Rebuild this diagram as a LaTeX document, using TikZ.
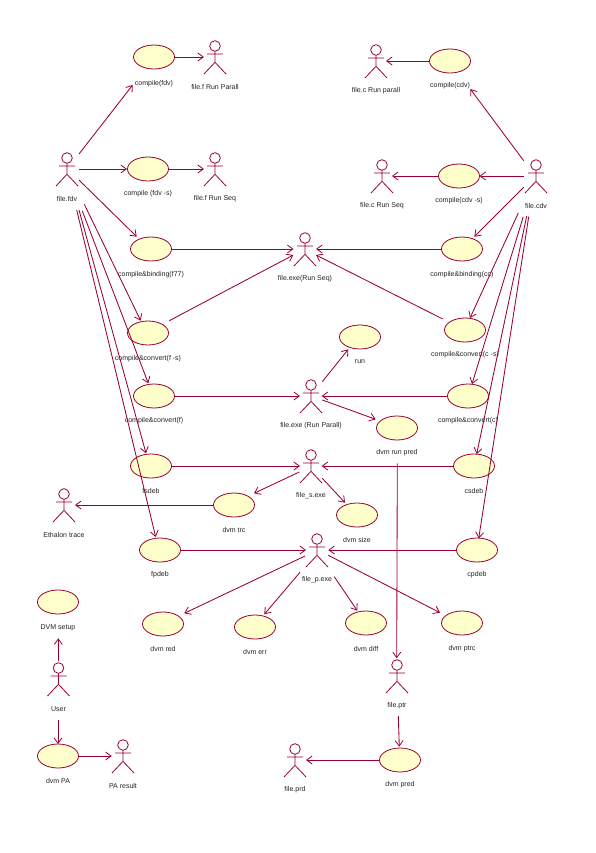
\documentclass[tikz,border=0pt]{standalone}
\usepackage{fontspec}
\setmainfont{Liberation Sans}
\usetikzlibrary{arrows.meta,shapes.geometric}
\definecolor{rosered}{HTML}{990033}
\definecolor{rosefill}{HTML}{FFFFCC}
\definecolor{rosetext}{HTML}{222222}
\tikzset{
  usecase/.style={ellipse,draw=rosered,fill=rosefill,line width=0.8pt,minimum width=41pt,minimum height=24pt,inner sep=0pt,outer sep=0pt},
  actorbox/.style={rectangle,draw=none,fill=none,minimum width=22pt,minimum height=34pt,inner sep=0pt,outer sep=0pt},
  actorline/.style={draw=rosered,line width=0.8pt},
  lbl/.style={font=\fontsize{7}{8}\selectfont,text=rosetext,inner sep=0pt,outer sep=0pt},
  conn/.style={draw=rosered,line width=0.85pt,-{Straight Barb[length=5.5pt,width=8pt,line width=0.8pt]}},
}
\newcommand{\ucase}[5]{% name x y label-y label
  \node[usecase] (#1) at (#2,#3) {};
  \node[lbl] (#1-l) at (#2,#4) {#5};
}
\newcommand{\actr}[4]{% name head-x head-y label
  \node[actorbox] (#1) at (#2,#3+11) {};
  \node[lbl] (#1-l) at (#2,#3+41) {#4};
  \begin{scope}[shift={(#2,#3)}]
    \draw[actorline] (0,0) circle (5.3pt);
    \draw[actorline] (0,5.3) -- (0,16.3) (-8,8) -- (8,8) (-11,28) -- (0,16.3) -- (11,28);
  \end{scope}
}
\newcommand{\cn}[4]{% from offset to offset
  \draw[conn] ([shift={(#2)}]#1.center) -- ([shift={(#4)}]#3.center);
}
\begin{document}
\begin{tikzpicture}[x=1pt,y=-1pt]
\useasboundingbox (0,0) rectangle (595,853);
\ucase{cf}{154}{57}{84}{compile(fdv)}
\ucase{cfs}{148}{169}{194}{compile (fdv -s)}
\ucase{bf}{151}{249}{275}{compile\&binding(f77)}
\ucase{vfs}{148}{333}{359}{compile\&convert(f -s)}
\ucase{vf}{154}{396}{421}{compile\&convert(f)}
\ucase{fs}{151}{466}{491}{fsdeb}
\ucase{dt}{234}{505}{530}{dvm trc}
\ucase{fp}{160}{550}{575}{fpdeb}
\ucase{ccd}{450}{61}{86}{compile(cdv)}
\ucase{ccs}{459}{176}{201}{compile(cdv -s)}
\ucase{bc}{462}{249}{275}{compile\&binding(cc)}
\ucase{vcs}{465}{330}{355}{compile\&convert(c -s)}
\ucase{vc}{468}{396}{421}{compile\&convert(c)}
\ucase{cs}{474}{466}{491}{csdeb}
\ucase{cp}{477}{550}{575}{cpdeb}
\ucase{run}{360}{337}{362}{run}
\ucase{drp}{397}{428}{453}{dvm run pred}
\ucase{ds}{357}{515}{540}{dvm size}
\ucase{dred}{163}{624}{649}{dvm red}
\ucase{derr}{255}{627}{652}{dvm err}
\ucase{ddiff}{366}{623}{649}{dvm diff}
\ucase{dptrc}{462}{623}{649}{dvm ptrc}
\ucase{setup}{58}{602}{628}{DVM setup}
\ucase{pa}{58}{756}{781}{dvm PA}
\ucase{dpred}{400}{760}{785}{dvm pred}
\actr{aPar}{215}{46}{file.f Run Parall}
\actr{aSeq}{215}{158}{file.f Run Seq}
\actr{fdv}{67}{158}{file.fdv}
\actr{exeS}{305}{238}{file.exe(Run Seq)}
\actr{cPar}{376}{50}{file.c Run parall}
\actr{cSeq}{382}{165}{file.c Run Seq}
\actr{cdv}{536}{165}{file.cdv}
\actr{exeP}{311}{385}{file.exe (Run Parall)}
\actr{exes}{311}{455}{file\_s.exe}
\actr{exep}{317}{539}{file\_p.exe}
\actr{eth}{64}{494}{Ethalon trace}
\actr{user}{58.5}{668}{User}
\actr{pr}{123}{745}{PA result}
\actr{ptr}{397}{665}{file.ptr}
\actr{prd}{295}{749}{file.prd}
\cn{fdv}{12,-15}{cf}{-21.3,28}
\cn{fdv}{12,0}{cfs}{-21,0}
\cn{cf}{20.5,0}{aPar}{-11,0}
\cn{cfs}{20.5,0}{aSeq}{-11,0}
\cn{fdv}{12,11}{bf}{-14.3,-12.3}
\cn{bf}{20.5,0}{exeS}{-11.5,0}
\cn{vfs}{21.3,-12.3}{exeS}{-11.7,6}
\cn{bc}{-20.5,0}{exeS}{11,0}
\cn{vcs}{-22.3,-11}{exeS}{11,6}
\cn{fdv}{17.3,35.3}{vfs}{-7.3,-12.3}
\cn{fdv}{15.3,42}{vf}{-5.7,-12.7}
\cn{fdv}{12,41}{fs}{-5,-12.7}
\cn{fdv}{9.7,41}{fp}{-4.3,-13}
\cn{cdv}{-12.3,-15.3}{ccd}{20.3,28}
\cn{cdv}{-12.3,0}{ccs}{20.5,0}
\cn{ccs}{-20.5,0}{cSeq}{10,0}
\cn{ccd}{-20.5,0}{cPar}{10,0}
\cn{cdv}{-12.3,11.3}{bc}{12.3,-12.3}
\cn{cdv}{-17.7,37}{vcs}{5,-12}
\cn{cdv}{-12.7,40.7}{vc}{4,-12}
\cn{cdv}{-9.3,40}{cs}{2.7,-12}
\cn{cdv}{-7.3,40.7}{cp}{1.7,-11.7}
\cn{vf}{20.5,0}{exeP}{-11,0}
\cn{vc}{-20.5,0}{exeP}{10.7,0}
\cn{exeP}{11.3,-14.3}{run}{-11.7,12.3}
\cn{exeP}{11.3,4}{drp}{-21.3,-8.7}
\cn{fs}{20.5,0}{exes}{-11,0}
\cn{cs}{-20.5,0}{exes}{10.7,0}
\cn{exes}{-11.7,6}{dt}{20,-11.7}
\cn{dt}{-20.5,0}{eth}{11,0}
\cn{exes}{11.3,12.3}{ds}{-12,-12.3}
\cn{fp}{20.5,0}{exep}{-11,0}
\cn{cp}{-20.5,0}{exep}{11.3,0}
\cn{exep}{-12,6}{dred}{21.3,-10.7}
\cn{exep}{-17,22.3}{derr}{9.3,-12.7}
\cn{exep}{17.3,26.7}{ddiff}{-8.7,-12.3}
\cn{exep}{11.3,5.3}{dptrc}{-22,-10.3}
\cn{drp}{0.3,35.3}{ptr}{-0.3,-17.7}
\cn{ptr}{1.3,40}{dpred}{-0.7,-13.3}
\cn{dpred}{-20.5,0}{prd}{11,0}
\cn{user}{-0.2,-18}{setup}{0.3,36.3}
\cn{user}{-0.5,41}{pa}{0,-12}
\cn{pa}{20.5,0}{pr}{-11.3,0}
\end{tikzpicture}
\end{document}
